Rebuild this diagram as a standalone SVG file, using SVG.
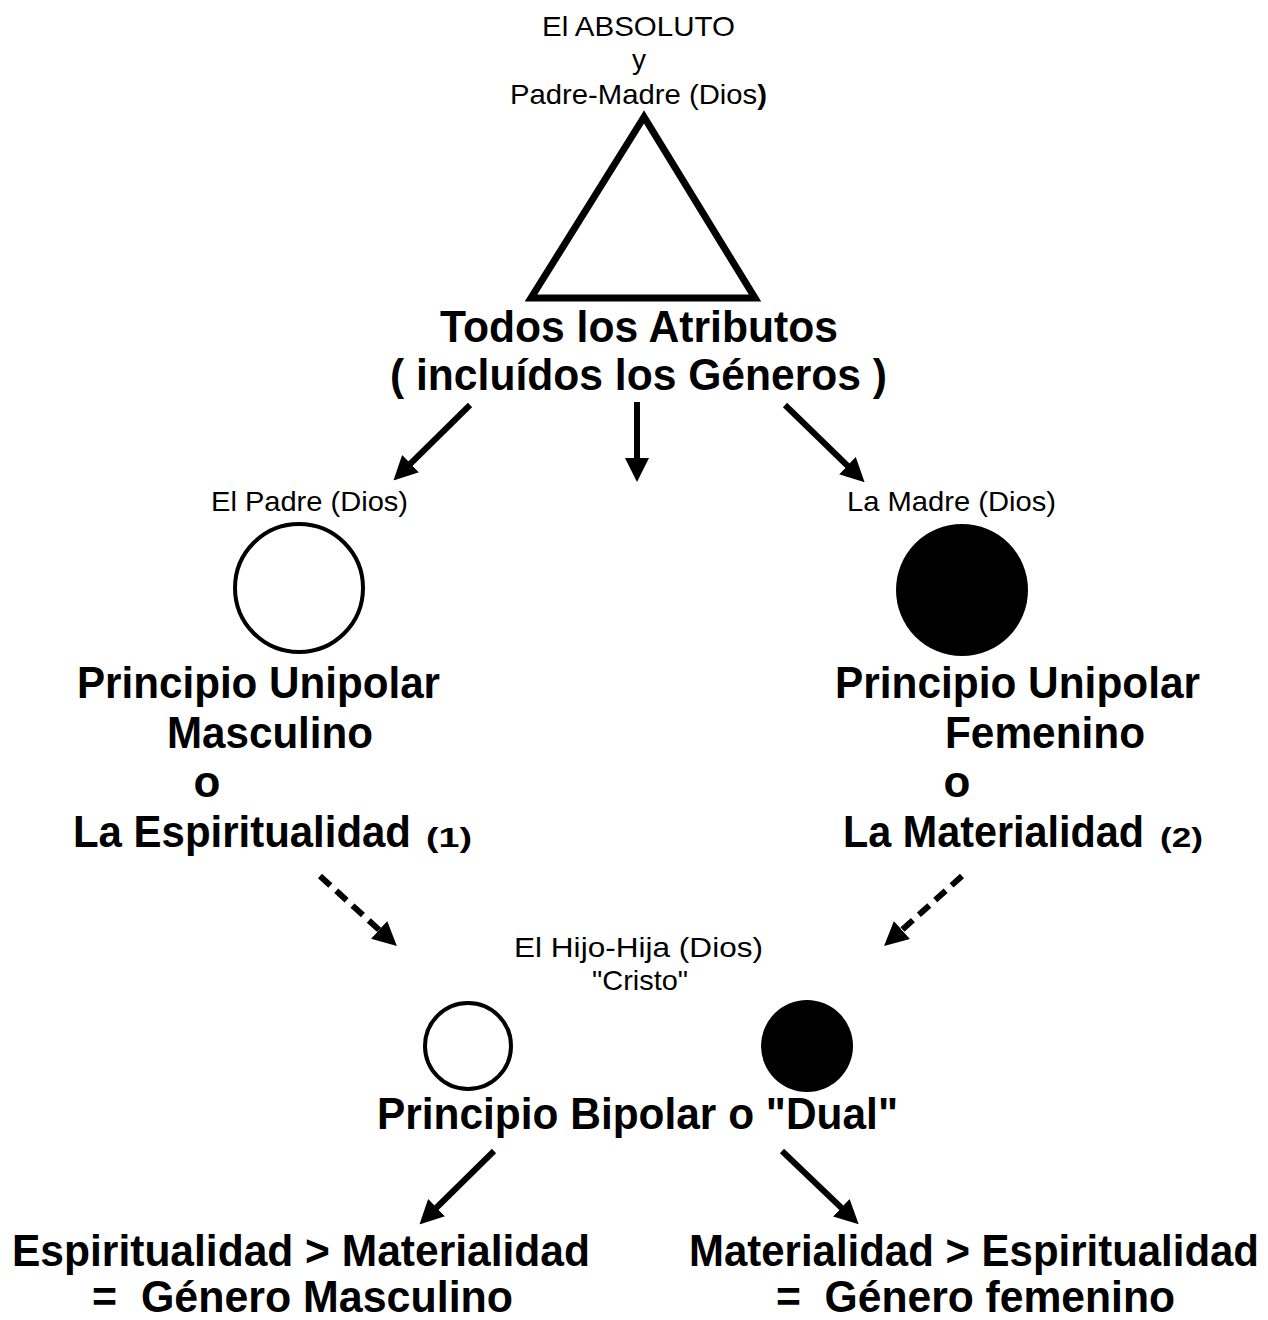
<svg xmlns="http://www.w3.org/2000/svg" width="1268" height="1320" viewBox="0 0 1268 1320">
<style>
.s{font-family:"Liberation Sans",Arial,sans-serif;font-size:28px;fill:#000}
.b{font-family:"Liberation Sans",Arial,sans-serif;font-size:44px;font-weight:bold;fill:#000}
.n{font-family:"Liberation Sans",Arial,sans-serif;font-size:28px;font-weight:bold;fill:#000}
.c{stroke:#000;stroke-width:6;fill:none}
</style>
<defs>
<marker id="ah" markerWidth="4" markerHeight="4" refX="2" refY="2" orient="auto" markerUnits="strokeWidth"><path d="M0,0 L4,2 L0,4 Z" fill="#000"/></marker>
</defs>
<rect width="1268" height="1320" fill="#fff"/>
<g id="top">
<text class="s" x="542" y="36" textLength="193" lengthAdjust="spacingAndGlyphs">El ABSOLUTO</text>
<text class="s" x="639" y="69" text-anchor="middle">y</text>
<text class="s" x="510" y="104" textLength="257" lengthAdjust="spacingAndGlyphs">Padre-Madre (Dios<tspan font-weight="bold">)</tspan></text>
<polygon points="644,117 531,298 755,298" fill="none" stroke="#000" stroke-width="7" stroke-linejoin="miter"/>
<text class="b" x="440" y="342" textLength="398" lengthAdjust="spacingAndGlyphs">Todos los Atributos</text>
<text class="b" x="390" y="390" textLength="497" lengthAdjust="spacingAndGlyphs">( incluídos los Géneros )</text>
</g>
<g id="padre">
<text class="s" x="211" y="511" textLength="197" lengthAdjust="spacingAndGlyphs">El Padre (Dios)</text>
<circle cx="299" cy="588" r="64" fill="#fff" stroke="#000" stroke-width="4"/>
<text class="b" x="77" y="698" textLength="363" lengthAdjust="spacingAndGlyphs">Principio Unipolar</text>
<text class="b" x="167" y="748" textLength="206" lengthAdjust="spacingAndGlyphs">Masculino</text>
<text class="b" x="207" y="797" text-anchor="middle">o</text>
<text class="b" x="73" y="847" textLength="338" lengthAdjust="spacingAndGlyphs">La Espiritualidad</text>
<text class="n" x="426" y="847" textLength="46" lengthAdjust="spacingAndGlyphs">(1)</text>
</g>
<g id="madre">
<text class="s" x="847" y="511" textLength="209" lengthAdjust="spacingAndGlyphs">La Madre (Dios)</text>
<circle cx="962" cy="590" r="66" fill="#000"/>
<text class="b" x="835" y="698" textLength="365" lengthAdjust="spacingAndGlyphs">Principio Unipolar</text>
<text class="b" x="945" y="748" textLength="200" lengthAdjust="spacingAndGlyphs">Femenino</text>
<text class="b" x="957" y="797" text-anchor="middle">o</text>
<text class="b" x="843" y="847" textLength="301" lengthAdjust="spacingAndGlyphs">La Materialidad</text>
<text class="n" x="1160" y="847" textLength="43" lengthAdjust="spacingAndGlyphs">(2)</text>
</g>
<g id="hijo">
<text class="s" x="514" y="957" textLength="249" lengthAdjust="spacingAndGlyphs">El Hijo-Hija (Dios)</text>
<text class="s" x="592" y="990" font-size="24" textLength="96" lengthAdjust="spacingAndGlyphs">"Cristo"</text>
<circle cx="468" cy="1046" r="43" fill="#fff" stroke="#000" stroke-width="4"/>
<circle cx="807" cy="1046" r="46" fill="#000"/>
<text class="b" x="377" y="1129" textLength="521" lengthAdjust="spacingAndGlyphs">Principio Bipolar o "Dual"</text>
</g>
<g id="masc">
<text class="b" x="12" y="1266" textLength="578" lengthAdjust="spacingAndGlyphs">Espiritualidad &gt; Materialidad</text>
<text class="b" x="92" y="1312" textLength="421" lengthAdjust="spacingAndGlyphs" xml:space="preserve">=  Género Masculino</text>
</g>
<g id="fem">
<text class="b" x="974" y="1266" text-anchor="middle" font-size="41" textLength="570" lengthAdjust="spacingAndGlyphs">Materialidad &gt; Espiritualidad</text>
<text class="b" x="776" y="1312" textLength="399" lengthAdjust="spacingAndGlyphs" xml:space="preserve">=  Género femenino</text>
</g>
<g id="connectors" class="c">
<line x1="470" y1="405" x2="402" y2="472" marker-end="url(#ah)"/>
<line x1="637" y1="402" x2="637" y2="470" marker-end="url(#ah)"/>
<line x1="785" y1="405" x2="856" y2="474" marker-end="url(#ah)"/>
<line x1="320" y1="876" x2="388" y2="938" stroke-dasharray="14,8" marker-end="url(#ah)"/>
<line x1="962" y1="876" x2="893" y2="938" stroke-dasharray="14,8" marker-end="url(#ah)"/>
<line x1="494" y1="1151" x2="428" y2="1216" marker-end="url(#ah)"/>
<line x1="782" y1="1151" x2="850" y2="1216" marker-end="url(#ah)"/>
</g>
</svg>
